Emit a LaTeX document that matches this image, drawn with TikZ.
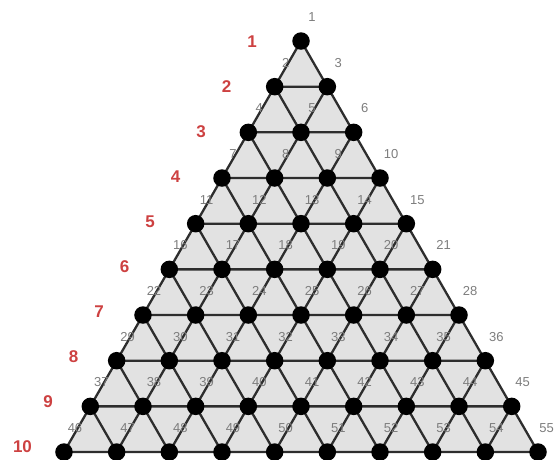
\documentclass[tikz,border=0pt]{standalone}
\usepackage{fontspec}
\setmainfont{Liberation Sans}
\definecolor{trifill}{RGB}{226,226,226}
\definecolor{edgecol}{RGB}{45,45,45}
\definecolor{numgray}{RGB}{125,125,125}
\definecolor{rowred}{RGB}{205,65,65}
\tikzset{
  dot/.style={circle,fill=black,inner sep=0pt,minimum size=17.5pt},
  edge/.style={draw=edgecol,line width=2.3pt},
  numlabel/.style={text=numgray,font=\fontsize{13}{13}\selectfont,inner sep=0pt},
  rowlabel/.style={text=rowred,font=\bfseries\fontsize{17}{17}\selectfont,inner sep=0pt}
}
\begin{document}
\begin{tikzpicture}[x=1pt,y=-1pt]
\useasboundingbox (0,0) rectangle (554,459);
% positions
\foreach \r in {1,...,10}{
  \foreach \k in {1,...,\r}{
    \pgfmathtruncatemacro\idx{\r*(\r-1)/2+\k}
    \coordinate (p\idx) at ({301+(\k-(\r+1)/2)*52.67},{41+(\r-1)*45.67});
  }
}
% background triangle
\fill[trifill] (p1) -- (p46) -- (p55) -- cycle;
% edges
\foreach \r in {1,...,9}{
  \foreach \k in {1,...,\r}{
    \pgfmathtruncatemacro\i{\r*(\r-1)/2+\k}
    \pgfmathtruncatemacro\a{(\r+1)*\r/2+\k}
    \pgfmathtruncatemacro\b{(\r+1)*\r/2+\k+1}
    \draw[edge] (p\i) -- (p\a) -- (p\b) -- cycle;
  }
}
% dots and number labels
\foreach \i in {1,...,54}{
  \node[dot] (n\i) at (p\i) {};
  \node[numlabel] (l\i) at ([xshift=11pt,yshift=24pt]p\i) {\i};
}
\node[dot] (n55) at (p55) {};
\node[numlabel,anchor=east] (l55) at ([xshift=16pt,yshift=24pt]p55) {55};
% row labels
\foreach \r in {1,...,10}{
  \node[rowlabel] (r\r) at ({252-25.5*(\r-1)},{42+(\r-1)*45}) {\r};
}
\end{tikzpicture}
\end{document}
